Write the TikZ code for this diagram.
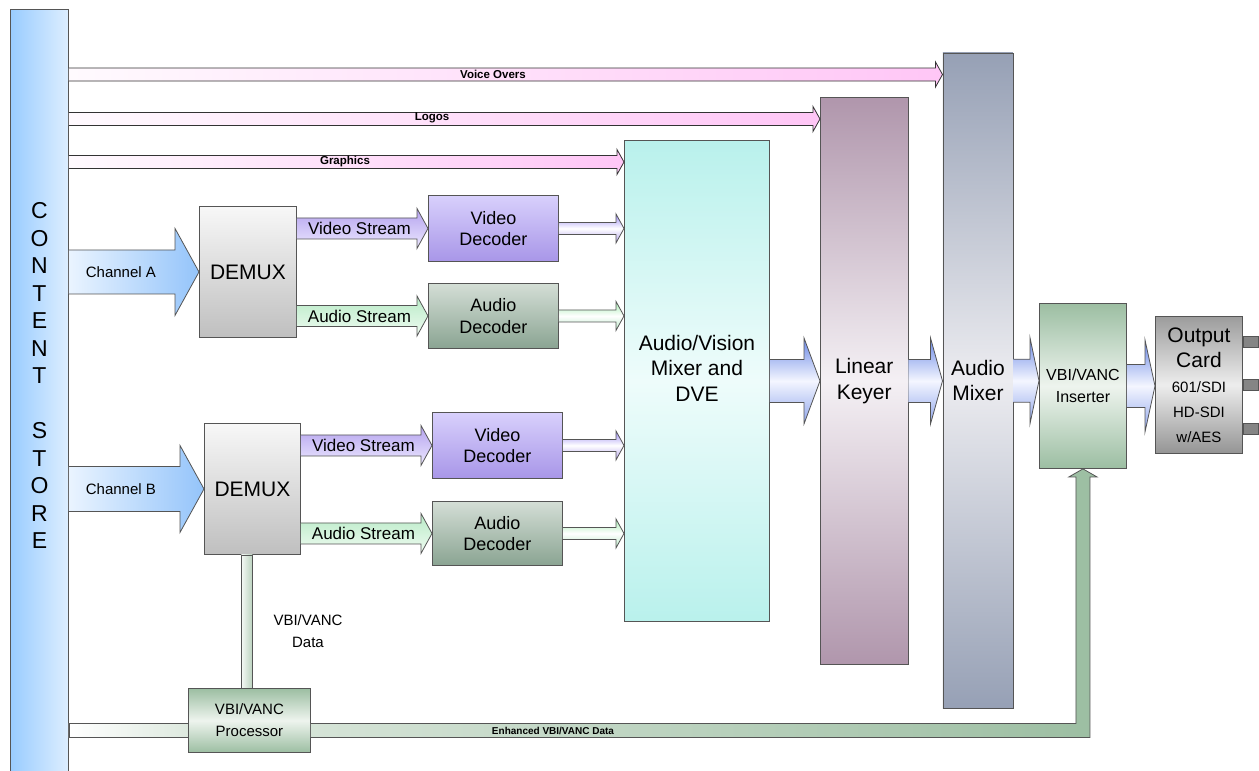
\documentclass[tikz,border=0pt]{standalone}
\usepackage{fontspec}
\setmainfont{Liberation Sans}
\usetikzlibrary{calc}

\definecolor{edge}{HTML}{555555}
\definecolor{storeL}{HTML}{99CCFF}
\definecolor{storeR}{HTML}{DDEEFF}
\definecolor{pinkL}{HTML}{FFFAFE}
\definecolor{pinkR}{HTML}{FFC6F6}
\definecolor{chanL}{HTML}{EAF4FF}
\definecolor{chanR}{HTML}{94C4FA}
\definecolor{vidT}{HTML}{B4A2EE}
\definecolor{vidB}{HTML}{ECE8FF}
\definecolor{audT}{HTML}{B8EAC6}
\definecolor{audB}{HTML}{F0FCF2}
\definecolor{vdecT}{HTML}{D8D0FC}
\definecolor{vdecB}{HTML}{A896E8}
\definecolor{adecT}{HTML}{D4DED6}
\definecolor{adecB}{HTML}{8AA492}
\definecolor{blueE}{HTML}{6A88E6}
\definecolor{blueM}{HTML}{F4F6FF}
\definecolor{mixC}{HTML}{B9F1EC}
\definecolor{mixM}{HTML}{EEFCFB}
\definecolor{keyC}{HTML}{B096AC}
\definecolor{keyM}{HTML}{F4F0F4}
\definecolor{amixC}{HTML}{96A0B5}
\definecolor{amixM}{HTML}{ECECF0}
\definecolor{vbiC}{HTML}{9CBEA2}
\definecolor{vbiM}{HTML}{EEF4EE}
\definecolor{cardC}{HTML}{9C9C9C}
\definecolor{cardM}{HTML}{EDEDED}

% block arrow: [style]{from}{to}{half shaft}{half head}{head length}
\newcommand{\fatarrow}[6][]{%
  \path[#1] let \p1=(#2), \p2=(#3) in
    (\x1,\y1-#4pt) -- (\x2-#6pt,\y1-#4pt) -- (\x2-#6pt,\y1-#5pt) -- (\x2,\y1)
    -- (\x2-#6pt,\y1+#5pt) -- (\x2-#6pt,\y1+#4pt) -- (\x1,\y1+#4pt);}
\newcommand{\cardsm}{\fontsize{15}{22}\selectfont}

\tikzset{
  blk/.style={draw=edge, line width=0.9pt, inner sep=0pt, align=center, anchor=north west},
  big/.style={font=\fontsize{21}{25.5}\selectfont},
  mid/.style={font=\fontsize{17}{21}\selectfont},
  dec/.style={font=\fontsize{18}{21.5}\selectfont},
  sml/.style={font=\fontsize{15}{22}\selectfont},
  tag/.style={font=\bfseries\fontsize{11.5}{13}\selectfont},
  pinkarr/.style={draw=black!80, line width=0.8pt, left color=pinkL, right color=pinkR},
  chanarr/.style={draw=edge, line width=0.8pt, left color=chanL, right color=chanR},
  vidarr/.style={draw=edge, line width=0.8pt, top color=vidT, bottom color=vidB},
  audarr/.style={draw=edge, line width=0.8pt, top color=audT, bottom color=audB},
  vidout/.style={draw=edge, line width=0.8pt, top color=vidT!85!blue, bottom color=vidT, middle color=white},
  audout/.style={draw=edge, line width=0.8pt, top color=audT!90!green, bottom color=audT, middle color=white},
  bluearr/.style={draw=edge, line width=0.8pt, top color=blueE, bottom color=blueE!75!white, middle color=blueM},
  vbiline/.style={draw=edge, line width=0.8pt},
}

\begin{document}
\begin{tikzpicture}[x=1pt, y=-1pt]
    \useasboundingbox[fill=white] (0,0) rectangle (1259,771);

    % Content store
    \node[blk, minimum width=58, minimum height=763, left color=storeL, right color=storeR] (store) at (10,9) {};
    \foreach \ch [count=\i from 0] in {C,O,N,T,E,N,T,{},S,T,O,R,E}
        \node[font=\fontsize{23}{24}\selectfont, inner sep=0pt] (cs\i) at ($(store.north)+(0,202+27.5*\i)$) {\ch};

    % Mixing chain
    \node[blk, minimum width=145, minimum height=481, top color=mixC, bottom color=mixC, middle color=mixM] (avmix) at (624,140) {};
    \node[big, align=center] (avmixtxt) at ($(avmix.center)+(0,-13)$) {Audio/Vision\\Mixer and\\DVE};
    \node[blk, big, minimum width=87.5, minimum height=567, top color=keyC, bottom color=keyC, middle color=keyM] (keyer) at (820,97) {Linear\\Keyer};
    \node[blk, big, minimum width=70, minimum height=655.5, top color=amixC, bottom color=amixC, middle color=amixM] (amix) at (942.5,52.5) {Audio\\Mixer};
    \node[blk, font=\fontsize{16}{22}\selectfont, minimum width=87, minimum height=165, top color=vbiC, bottom color=vbiC, middle color=vbiM] (ins) at (1039,303) {VBI/VANC\\Inserter};
    \node[blk, font=\fontsize{21}{25}\selectfont, minimum width=87, minimum height=137, top color=cardC, bottom color=cardC!95!black, middle color=cardM] (out) at (1155,316)
        {Output\\Card\\\cardsm 601/SDI\\\cardsm HD-SDI\\\cardsm w/AES};
    \foreach \dy in {20,63,107}
        \draw[draw=edge, line width=0.8pt, fill=cardC!85!black] ($(out.north east)+(0,\dy)$) rectangle +(15,11);

    % Channel A
    \node[blk, big, minimum width=97, minimum height=131, top color=white!97!black, bottom color=black!25] (demuxA) at (199,206) {DEMUX};
    \node[blk, dec, minimum width=130, minimum height=66, top color=vdecT, bottom color=vdecB] (vdecA) at (428,195) {Video\\Decoder};
    \node[blk, dec, minimum width=130, minimum height=65, top color=adecT, bottom color=adecB] (adecA) at (428,283) {Audio\\Decoder};

    % Channel B
    \node[blk, big, minimum width=96, minimum height=131, top color=white!97!black, bottom color=black!25] (demuxB) at (204,423) {DEMUX};
    \node[blk, dec, minimum width=130, minimum height=66, top color=vdecT, bottom color=vdecB] (vdecB) at (432,412) {Video\\Decoder};
    \node[blk, dec, minimum width=130, minimum height=64, top color=adecT, bottom color=adecB] (adecB) at (432,501) {Audio\\Decoder};

    % VBI/VANC processing
    \node[blk, sml, minimum width=122, minimum height=64, top color=vbiC, bottom color=vbiC, middle color=vbiM] (proc) at (188,688) {VBI/VANC\\Processor};

    % Overlay paths from the store
    \coordinate (vo) at ($(amix.north west)+(0,22)$);
    \coordinate (lg) at ($(keyer.north west)+(0,22)$);
    \coordinate (gx) at ($(avmix.north west)+(0,22)$);
    \fatarrow[pinkarr]{store.east |- vo}{vo}{6.5}{12.5}{7}
    \fatarrow[pinkarr]{store.east |- lg}{lg}{6.5}{12.5}{7}
    \fatarrow[pinkarr]{store.east |- gx}{gx}{6.5}{12.5}{7}
    \node[tag] (volbl) at (493,74) {Voice Overs};
    \node[tag] (lglbl) at (432,118) {Logos};
    \node[tag] (gxlbl) at (345,162) {Graphics};

    % Channel inputs
    \fatarrow[chanarr]{store.east |- demuxA.west}{demuxA.west}{22}{43.5}{24}
    \fatarrow[chanarr]{store.east |- demuxB.west}{demuxB.west}{22.5}{43.5}{24}
    \node[font=\fontsize{15}{18}\selectfont] (chA) at ($(store.east |- demuxA.west)+(52,0)$) {Channel A};
    \node[font=\fontsize{15}{18}\selectfont] (chB) at ($(store.east |- demuxB.west)+(52,0)$) {Channel B};

    % Streams
    \foreach \d/\v/\a in {demuxA/vdecA/adecA, demuxB/vdecB/adecB} {
        \fatarrow[vidarr]{\d.east |- \v.west}{\v.west}{10.5}{20}{11}
        \fatarrow[audarr]{\d.east |- \a.west}{\a.west}{10.5}{20}{11}
        \node[mid] (\v lbl) at ($(\d.east |- \v.west)!0.5!(\v.west)+(-3,0)$) {Video Stream};
        \node[mid] (\a lbl) at ($(\d.east |- \a.west)!0.5!(\a.west)+(-3,0)$) {Audio Stream};
        \fatarrow[vidout]{\v.east}{avmix.west |- \v.east}{6}{14.5}{8}
        \fatarrow[audout]{\a.east}{avmix.west |- \a.east}{6}{14.5}{8}
    }

    % Programme path
    \fatarrow[bluearr]{avmix.east}{keyer.west}{21.5}{43}{16}
    \fatarrow[bluearr]{keyer.east}{amix.west}{21.5}{43}{12}
    \fatarrow[bluearr]{amix.east}{ins.west |- amix.east}{21.5}{43}{9}
    \fatarrow[bluearr]{ins.east}{out.west |- ins.east}{21.5}{46}{10}

    % VBI/VANC data
    \path[vbiline, left color=vbiM!60!white, right color=vbiC!70!white] let \p1=(demuxB.south), \p2=(proc.north) in
        (\x1-11pt,\y1) rectangle (\x1,\y2);
    \node[sml, align=center] (vbilbl) at (308,631) {VBI/VANC\\Data};
    \path[vbiline, left color=white, right color=vbiM!80!vbiC] let \p1=(store.east), \p2=(proc.west) in
        (\x1,\y2-3pt) rectangle (\x2,\y2-17pt);
    \path[vbiline, left color=vbiM!70!vbiC, right color=vbiC] let \p1=(proc.east), \p2=(ins.south) in
        (\x1,\y1-3pt) -- (\x2-7pt,\y1-3pt) -- (\x2-7pt,\y2-8pt) -- (\x2-14pt,\y2-8pt) -- (\x2,\y2)
        -- (\x2+14pt,\y2-8pt) -- (\x2+7pt,\y2-8pt) -- (\x2+7pt,\y1-17pt) -- (\x1,\y1-17pt);
    \node[font=\bfseries\fontsize{10}{12}\selectfont] (enhlbl) at (553,731) {Enhanced VBI/VANC Data};

\end{tikzpicture}
\end{document}
